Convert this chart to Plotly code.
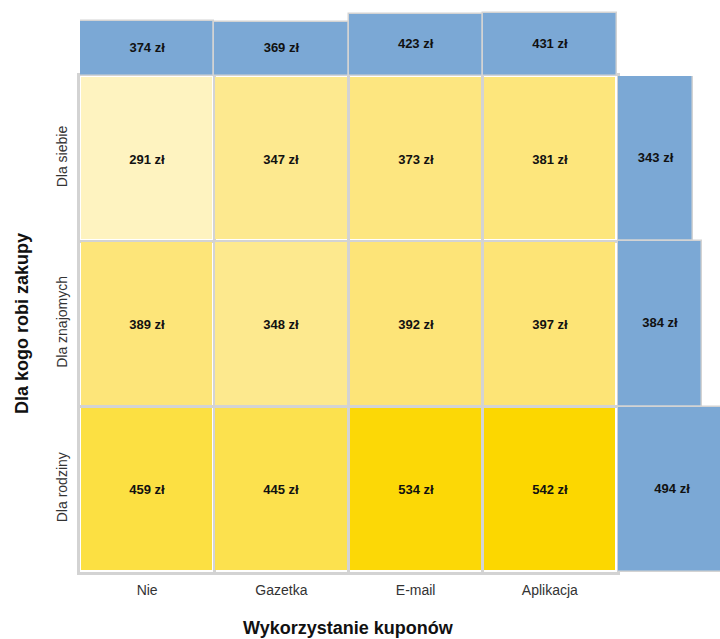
import plotly.graph_objects as go

# Coupon usage vs. who the shopping is for: average spend (zł)
coupon_types = ["Nie", "Gazetka", "E-mail", "Aplikacja"]
shopping_for = ["Dla siebie", "Dla znajomych", "Dla rodziny"]
avg_spend = [
    [291, 347, 373, 381],
    [389, 348, 392, 397],
    [459, 445, 534, 542],
]
coupon_means = [374, 369, 423, 431]
target_means = [343, 384, 494]

W, H = 720, 639
BLUE = "#7BA8D5"
EDGE = "#D3D3D3"
FONT = "Liberation Sans, Arial, sans-serif"
VALUE_FONT = dict(family=FONT, size=13, color="#111111")

def fx(px):
    return px / W

def fy(py):
    return 1 - py / H

fig = go.Figure()

fig.add_trace(go.Heatmap(
    x=coupon_types, y=shopping_for, z=avg_spend,
    colorscale=[
        [0.0, "#FEF3C0"], [0.22, "#FDE98F"], [0.34, "#FDE67E"],
        [0.42, "#FDE476"], [0.67, "#FCE042"], [1.0, "#FCD700"],
    ],
    showscale=False, xgap=3, ygap=3,
    texttemplate="<b>%{z} zł</b>",
    textfont=VALUE_FONT,
    hoverinfo="skip",
))

# column means above the grid
fig.add_trace(go.Bar(
    x=coupon_types, y=coupon_means, xaxis="x2", yaxis="y2",
    marker=dict(color=BLUE, line=dict(color=EDGE, width=1.5)),
    hoverinfo="skip",
))
fig.add_trace(go.Scatter(
    x=coupon_types, y=[v / 2 for v in coupon_means], xaxis="x2", yaxis="y2",
    mode="text", text=[f"<b>{v} zł</b>" for v in coupon_means],
    textfont=VALUE_FONT, hoverinfo="skip",
))

# row means to the right of the grid
fig.add_trace(go.Bar(
    x=target_means, y=shopping_for, orientation="h", xaxis="x3", yaxis="y3",
    marker=dict(color=BLUE, line=dict(color=EDGE, width=1.5)),
    hoverinfo="skip", cliponaxis=True,
))
fig.add_trace(go.Scatter(
    x=[v / 2 for v in target_means], y=shopping_for, xaxis="x3", yaxis="y3",
    mode="text", text=[f"<b>{v} zł</b>" for v in target_means],
    textfont=VALUE_FONT, hoverinfo="skip",
    cliponaxis=False,
))

grid_x = [80, 617]
grid_y = [76, 572]

fig.update_layout(
    width=W, height=H, autosize=False,
    margin=dict(l=0, r=0, t=0, b=0),
    paper_bgcolor="white", plot_bgcolor="white",
    showlegend=False, bargap=0,
    font=dict(family=FONT, color="#333333"),
    xaxis=dict(
        domain=[fx(grid_x[0]), fx(grid_x[1])], type="category",
        categoryorder="array", categoryarray=coupon_types,
        tickson="boundaries", showgrid=True, gridcolor=EDGE, gridwidth=3,
        showline=True, linecolor=EDGE, linewidth=3, mirror=True,
        ticks="", tickfont=dict(size=14, color="#333333"),
        ticklabelstandoff=3, automargin=False, fixedrange=True,
    ),
    yaxis=dict(
        domain=[fy(grid_y[1]), fy(grid_y[0])], type="category",
        categoryorder="array", categoryarray=shopping_for, autorange="reversed",
        tickson="boundaries", showgrid=True, gridcolor=EDGE, gridwidth=3,
        showline=True, linecolor=EDGE, linewidth=3, mirror=True,
        ticks="", tickangle=-90, tickfont=dict(size=14, color="#333333"),
        ticklabelstandoff=4, automargin=False, fixedrange=True,
    ),
    xaxis2=dict(
        domain=[fx(grid_x[0]), fx(grid_x[1])], anchor="y2", type="category",
        categoryorder="array", categoryarray=coupon_types,
        showticklabels=False, showgrid=False, zeroline=False, ticks="",
        fixedrange=True,
    ),
    yaxis2=dict(
        domain=[fy(grid_y[0]), 1.0], anchor="x2",
        range=[0, 519], showticklabels=False, showgrid=False,
        zeroline=False, ticks="", fixedrange=True,
    ),
    xaxis3=dict(
        domain=[fx(618), 1.0], anchor="y3",
        range=[0, 466], showticklabels=False, showgrid=False,
        zeroline=False, ticks="", fixedrange=True,
    ),
    yaxis3=dict(
        domain=[fy(grid_y[1]), fy(grid_y[0])], anchor="x3", type="category",
        categoryorder="array", categoryarray=shopping_for, autorange="reversed",
        showticklabels=False, showgrid=False, zeroline=False, ticks="",
        fixedrange=True,
    ),
    annotations=[
        dict(text="<b>Wykorzystanie kuponów</b>", xref="paper", yref="paper",
             x=fx((grid_x[0] + grid_x[1]) / 2), y=fy(628), xanchor="center",
             yanchor="middle", showarrow=False,
             font=dict(size=18, color="#111111")),
        dict(text="<b>Dla kogo robi zakupy</b>", xref="paper", yref="paper",
             x=fx(22), y=fy((grid_y[0] + grid_y[1]) / 2), xanchor="center",
             yanchor="middle", textangle=-90, showarrow=False,
             font=dict(size=18, color="#111111")),
    ],
)

fig.write_html("out.html")
